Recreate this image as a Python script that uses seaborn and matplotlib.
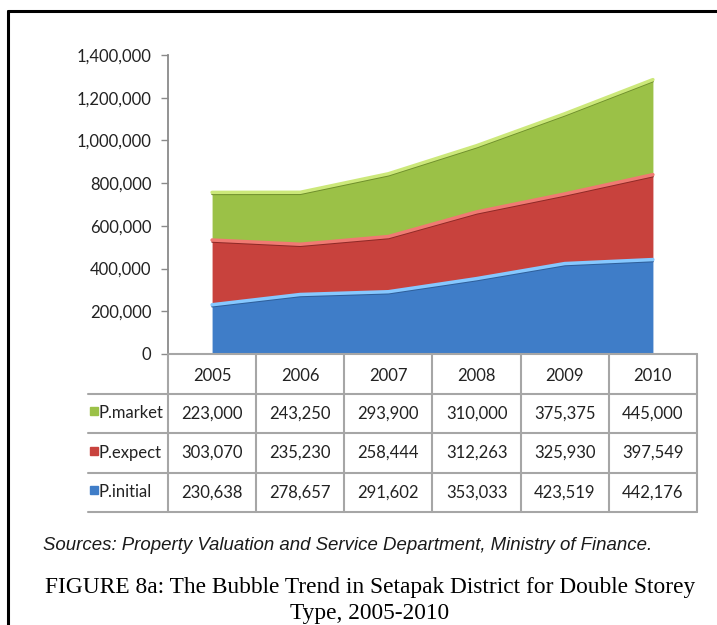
import numpy as np
import pandas as pd
import seaborn as sns
import matplotlib.pyplot as plt
from matplotlib.lines import Line2D

years = ['2005', '2006', '2007', '2008', '2009', '2010']
p_market = [223000, 243250, 293900, 310000, 375375, 445000]
p_expect = [303070, 235230, 258444, 312263, 325930, 397549]
p_initial = [230638, 278657, 291602, 353033, 423519, 442176]
series_names = ['P.market', 'P.expect', 'P.initial']
yticks = [0, 200000, 400000, 600000, 800000, 1000000, 1200000, 1400000]

sns.set_theme(style='white')
plt.rcParams['font.family'] = ['Lato', 'DejaVu Sans']

W, H = 717, 625
fig = plt.figure(figsize=(W / 100, H / 100), dpi=100)

# stacked band limits
df = pd.DataFrame({'year': years, 'P.initial': p_initial,
                   'P.expect': p_expect, 'P.market': p_market})
df['x'] = np.arange(len(years))
df['lvl1'] = df['P.initial']
df['lvl2'] = df['lvl1'] + df['P.expect']
df['lvl3'] = df['lvl2'] + df['P.market']

colors = {'P.initial': '#3f7dc8', 'P.expect': '#c8423d', 'P.market': '#9bc147'}
edge_cols = {'P.initial': '#86c8ff', 'P.expect': '#f07a72', 'P.market': '#cce87a'}
dark_cols = {'P.initial': '#2f5f9a', 'P.expect': '#8f2a27', 'P.market': '#6f8f2c'}

L, R = 168, 697
ax = fig.add_axes([L / W, 1 - 354 / H, (R - L) / W, (354 - 55) / H])
base = np.zeros(len(years))
for name, top in [('P.initial', 'lvl1'), ('P.expect', 'lvl2'), ('P.market', 'lvl3')]:
    ax.fill_between(df['x'], base, df[top], color=colors[name], lw=0, zorder=2)
    sns.lineplot(x=df['x'], y=df[top] - 9000, color=dark_cols[name], lw=1.2,
                 ax=ax, zorder=3)
    sns.lineplot(x=df['x'], y=df[top], color=edge_cols[name], lw=2.5,
                 ax=ax, zorder=4)
    base = df[top].values

ax.set_xlim(-0.5, len(years) - 0.5)
ax.set_ylim(0, 1400000)
ax.set_yticks(yticks)
ax.set_yticklabels([f'{v:,}' for v in yticks], fontsize=12, color='#222222')
ax.set_xticks([])
ax.set_xlabel('')
ax.set_ylabel('')
ax.tick_params(axis='y', left=True, length=5, width=1, color='#8a8a8a', pad=7)
for s in ['top', 'right', 'bottom']:
    ax.spines[s].set_visible(False)
ax.spines['left'].set_color('#8a8a8a')
ax.spines['left'].set_linewidth(1.3)

# data table under the plot
tax = fig.add_axes([L / W, 1 - 512 / H, (R - L) / W, 158 / H])
tax.set_xlim(-0.5, len(years) - 0.5)
tax.set_ylim(4, 0)
tax.axis('off')
grid = '#a6a6a6'
px = (R - L) / len(years)
x_left = -0.5 - 80 / px
for r in range(4):
    tax.plot([x_left if r > 0 else -0.5, len(years) - 0.5], [r, r], color=grid,
             lw=1.5, clip_on=False)
tax.plot([x_left, len(years) - 0.5], [4, 4], color=grid, lw=1.5, clip_on=False)
for c in range(len(years) + 1):
    tax.plot([c - 0.5, c - 0.5], [0, 4], color=grid, lw=1.5, clip_on=False)

for i, yr in enumerate(years):
    tax.text(i, 0.55, yr, ha='center', va='center', fontsize=12, color='#222222')

rows = {'P.market': p_market, 'P.expect': p_expect, 'P.initial': p_initial}
for r, name in enumerate(series_names, start=1):
    tax.plot(-0.5 - 74 / px, r + 0.45, marker='s', ms=5.5, color=colors[name],
             clip_on=False)
    tax.text(-0.5 - 69 / px, r + 0.5, name, ha='left', va='center', fontsize=12,
             color='#222222')
    for i, v in enumerate(rows[name]):
        tax.text(i, r + 0.5, f'{v:,}', ha='center', va='center', fontsize=12,
                 color='#222222')

# source note and caption
fig.text(43 / W, 1 - 545 / H,
         'Sources: Property Valuation and Service Department, Ministry of Finance.',
         family=['Liberation Sans'], style='italic',
         fontsize=13.4, color='#1a1a1a', ha='left', va='center')
fig.text(370 / W, 1 - 588 / H,
         'FIGURE 8a: The Bubble Trend in Setapak District for Double Storey',
         family=['Liberation Serif'], fontsize=16.8, color='black',
         ha='center', va='center')
fig.text(370 / W, 1 - 624 / H, 'Type, 2005-2010', family=['Liberation Serif'],
         fontsize=16.8, color='black', ha='center', va='bottom')

# frame around the figure
fig.add_artist(Line2D([8 / W, 8 / W], [0, 1 - 11 / H], color='black', lw=2.2,
                      transform=fig.transFigure))
fig.add_artist(Line2D([8 / W, 1], [1 - 11 / H, 1 - 11 / H], color='black', lw=2.2,
                      transform=fig.transFigure))

fig.savefig('out.png', dpi=100)
